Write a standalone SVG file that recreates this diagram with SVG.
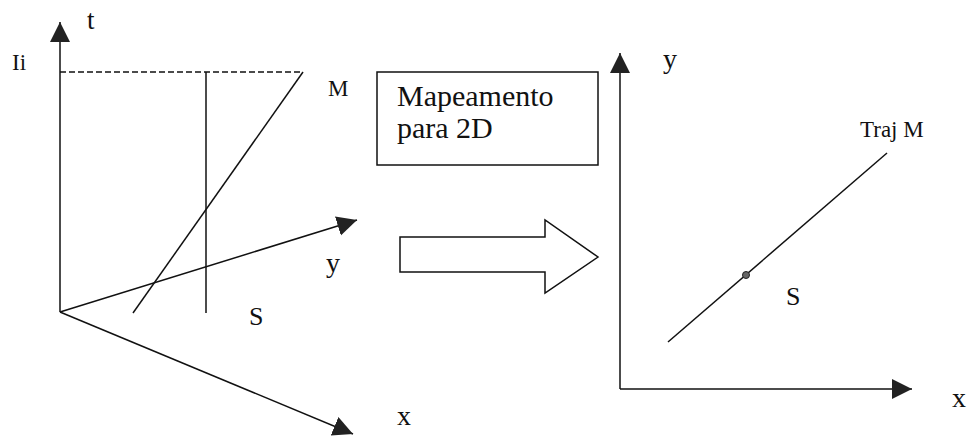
<svg xmlns="http://www.w3.org/2000/svg" width="968" height="437" viewBox="0 0 968 437">
<defs>
<style>
.ln{stroke:#111;stroke-width:1.5;fill:none}
.ax{stroke:#111;stroke-width:1.5;fill:none;marker-end:url(#ah)}
.dash{stroke:#111;stroke-width:1.5;fill:none;stroke-dasharray:6,3}
.t{font-family:"Liberation Serif","Times New Roman",serif;fill:#111}
.box{fill:#fff;stroke:#111;stroke-width:1.5}
</style>
<marker id="ah" markerUnits="userSpaceOnUse" markerWidth="22" markerHeight="22" refX="20" refY="10" orient="auto" viewBox="0 0 22 22">
<path d="M0,0 L20,10 L0,20 z" fill="#222"/>
</marker>
</defs>
<rect width="968" height="437" fill="#fff"/>
<g id="connectors">
<line class="ax" x1="60" y1="312" x2="60" y2="22"/>
<line class="ax" x1="60" y1="312" x2="357" y2="220"/>
<line class="ax" x1="60" y1="312" x2="353" y2="434"/>
<line class="dash" x1="60" y1="72" x2="303" y2="72"/>
<line class="ln" x1="206" y1="72" x2="206" y2="313"/>
<line class="ln" x1="303" y1="72" x2="133" y2="313"/>
<line class="ax" x1="620" y1="389" x2="620" y2="53"/>
<line class="ax" x1="620" y1="389" x2="912" y2="389"/>
<line class="ln" x1="668" y1="342" x2="887" y2="153"/>
</g>
<g id="label-t"><text class="t" x="87" y="29" font-size="27">t</text></g>
<g id="label-Ii"><text class="t" x="12" y="70" font-size="23">Ii</text></g>
<g id="label-M"><text class="t" x="328" y="96" font-size="23">M</text></g>
<g id="label-y-left"><text class="t" x="326" y="272" font-size="28">y</text></g>
<g id="label-S-left"><text class="t" x="249" y="325" font-size="26">S</text></g>
<g id="label-x-left"><text class="t" x="397" y="425" font-size="28">x</text></g>
<g id="box-mapeamento">
<rect class="box" x="377" y="72" width="221" height="93"/>
<text class="t" x="397" y="106" font-size="30">Mapeamento</text>
<text class="t" x="397" y="138" font-size="30">para 2D</text>
</g>
<g id="block-arrow">
<polygon class="box" points="400,237 545,237 545,220 598,257 545,293 545,272 400,272"/>
</g>
<g id="label-y-right"><text class="t" x="663" y="68" font-size="28">y</text></g>
<g id="label-x-right"><text class="t" x="952" y="407" font-size="28">x</text></g>
<g id="label-traj"><text class="t" x="860" y="137" font-size="23">Traj M</text></g>
<g id="point"><circle cx="746" cy="275" r="3.5" fill="#666" stroke="#222" stroke-width="1"/></g>
<g id="label-S-right"><text class="t" x="786" y="305" font-size="26">S</text></g>
</svg>
